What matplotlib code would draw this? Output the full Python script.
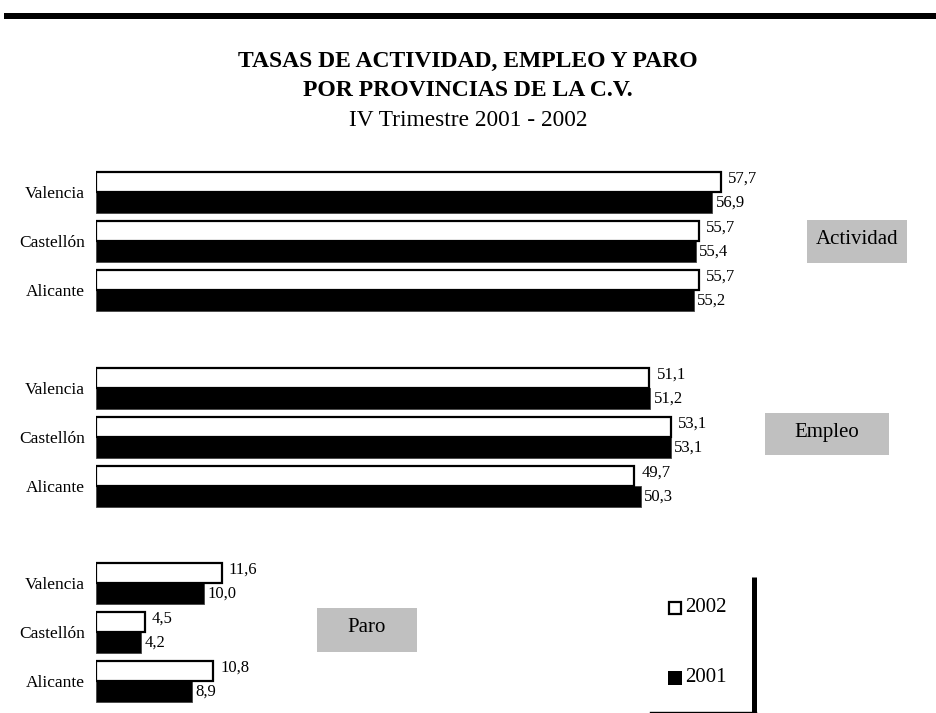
import matplotlib

matplotlib.use("Agg")
import matplotlib.pyplot as plt
from matplotlib.patches import Rectangle

plt.rcParams["font.family"] = ["Liberation Serif", "DejaVu Serif"]

provincias = ["Valencia", "Castellón", "Alicante"]
actividad_2002 = [57.7, 55.7, 55.7]
actividad_2001 = [56.9, 55.4, 55.2]
empleo_2002 = [51.1, 53.1, 49.7]
empleo_2001 = [51.2, 53.1, 50.3]
paro_2002 = [11.6, 4.5, 10.8]
paro_2001 = [10.0, 4.2, 8.9]

W, H = 937, 713
PX_PER_UNIT = 10.83
X0 = 96
ROW = 49  # pixels between provinces


def fmt(v):
    return f"{v:.1f}".replace(".", ",")


fig = plt.figure(figsize=(W / 100, H / 100), dpi=100)

# overlay in pixel coordinates for the decorations
ov = fig.add_axes([0, 0, 1, 1])
ov.set_xlim(0, W)
ov.set_ylim(H, 0)
ov.axis("off")

ov.add_patch(Rectangle((4, 13), W - 4, 6, color="black", lw=0))
ov.text(468, 61, "TASAS DE ACTIVIDAD, EMPLEO Y PARO", ha="center", va="center",
        fontsize=17, fontweight="bold")
ov.text(468, 91, "POR PROVINCIAS DE LA C.V.", ha="center", va="center",
        fontsize=17, fontweight="bold")
ov.text(468, 121, "IV Trimestre 2001 - 2002", ha="center", va="center", fontsize=16.8)


def panel(top_center, v2002, v2001, label, box):
    top = top_center - 0.6 * ROW
    height = 3.2 * ROW
    xmax = (W - X0) / PX_PER_UNIT
    ax = fig.add_axes([X0 / W, 1 - (top + height) / H, (W - X0) / W, height / H])
    ax.set_xlim(0, xmax)
    ax.set_ylim(2.6, -0.6)
    y = list(range(len(provincias)))
    ax.barh([i - 0.2 for i in y], v2002, height=0.4, color="white",
            edgecolor="black", linewidth=1.6, zorder=3)
    ax.barh([i + 0.215 for i in y], v2001, height=0.43, color="black",
            edgecolor="#444444", linewidth=0.6, zorder=2)
    for i, (a, b) in enumerate(zip(v2002, v2001)):
        ax.text(a + 0.65, i - 0.27, fmt(a), ha="left", va="center", fontsize=12)
        ax.text(b + 0.3, i + 0.22, fmt(b), ha="left", va="center", fontsize=12)
    ax.set_yticks(y, provincias, fontsize=12.5)
    ax.set_xticks([])
    ax.tick_params(axis="y", length=0, pad=8)
    for s in ax.spines.values():
        s.set_visible(False)
    ax.patch.set_alpha(0)

    bx, by, bw, bh = box
    ov.add_patch(Rectangle((bx, by), bw, bh, color="#c0c0c0", lw=0))
    ov.text(bx + bw / 2, by + bh / 2 - 2, label, ha="center", va="center", fontsize=15)


panel(192, actividad_2002, actividad_2001, "Actividad", (807, 220, 100, 43))
panel(388, empleo_2002, empleo_2001, "Empleo", (765, 413, 124, 42))
panel(583, paro_2002, paro_2001, "Paro", (317, 608, 100, 44))

# legend
ov.add_patch(Rectangle((669, 602), 12, 12, facecolor="white", edgecolor="black", lw=1.6))
ov.text(685, 608, "2002", ha="left", va="center", fontsize=15)
ov.add_patch(Rectangle((668, 671), 14, 14, facecolor="black", edgecolor="black", lw=0))
ov.text(685, 678, "2001", ha="left", va="center", fontsize=15)
ov.plot([754.5, 754.5], [577, 712], color="black", lw=3.6, solid_capstyle="butt")
ov.plot([650, 756], [711.5, 711.5], color="black", lw=1.0)

fig.savefig("out.png", dpi=100)
